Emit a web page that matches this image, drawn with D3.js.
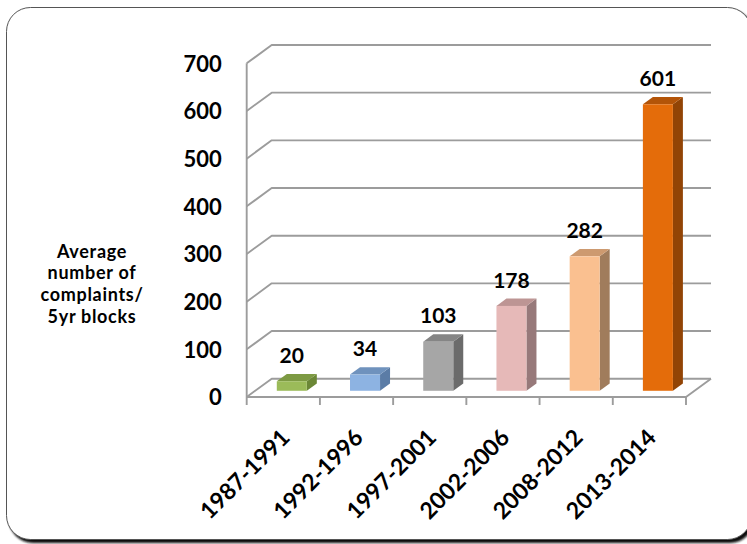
<!DOCTYPE html>
<html>
<head>
<meta charset="utf-8">
<script src="https://cdn.jsdelivr.net/npm/d3@7/dist/d3.min.js"></script>
<style>
  html, body { margin: 0; padding: 0; background: #ffffff; }
  svg { display: block; }
  text { font-family: Lato, "Open Sans", "Liberation Sans", sans-serif; font-weight: bold; fill: #000; }
</style>
</head>
<body>
<svg id="chart" width="747" height="544"></svg>
<script>
// Average complaints per block of years
const categories = ["1987-1991", "1992-1996", "1997-2001", "2002-2006", "2008-2012", "2013-2014"];
const values = [20, 34, 103, 178, 282, 601];
const yTicks = [0, 100, 200, 300, 400, 500, 600, 700];
const axisTitle = ["Average", "number of", "complaints/", "5yr blocks"];

// Bar faces: front, top, side
const barColors = [
  { front: "#9bbb59", top: "#7d9a43", side: "#6b8736" },
  { front: "#8db3e2", top: "#6f92bd", side: "#5b7ca6" },
  { front: "#a6a6a6", top: "#858585", side: "#6b6b6b" },
  { front: "#e6b9b8", top: "#bd9594", side: "#97797a" },
  { front: "#fac090", top: "#cd9a70", side: "#a07c5c" },
  { front: "#e46c0a", top: "#b35408", side: "#924405" }
];

const svg = d3.select("#chart");

// Frame with drop shadow
const defs = svg.append("defs");
const blur = defs.append("filter").attr("id", "shadowBlur")
  .attr("x", "-5%").attr("y", "-5%").attr("width", "110%").attr("height", "110%");
blur.append("feGaussianBlur").attr("stdDeviation", 1);

svg.append("rect")
  .attr("x", 9).attr("y", 10).attr("width", 745).attr("height", 533)
  .attr("rx", 24).attr("ry", 24)
  .attr("fill", "#111").attr("filter", "url(#shadowBlur)");
svg.append("rect")
  .attr("x", 6.5).attr("y", 7.5).attr("width", 745).attr("height", 532)
  .attr("rx", 24).attr("ry", 24)
  .attr("fill", "#fff").attr("stroke", "#555").attr("stroke-width", 1);

// 3D plot geometry
const plotLeft = 246.7, plotRight = 686;
const depthX = 25, depthY = -18.3;        // full floor depth offset
const barDepth0 = 0.34, barDepth1 = 0.74;  // bar placement within depth
const barWidthFrac = 0.41;

const x = d3.scaleBand().domain(categories).range([plotLeft, plotRight]).padding(0);
const y = d3.scaleLinear().domain([0, 700]).range([397, 63.3]);

const grid = svg.append("g")
  .attr("fill", "none").attr("stroke", "#9c9c9c").attr("stroke-width", 1.9)
  .attr("stroke-linejoin", "round");

// Back wall gridlines and left wall diagonals
yTicks.forEach(t => {
  const yf = y(t);
  grid.append("path").attr("d", d3.line()([
    [plotLeft, yf],
    [plotLeft + depthX, yf + depthY],
    [plotRight + depthX, yf + depthY]
  ]));
});
// Left wall front edge
grid.append("line")
  .attr("x1", plotLeft).attr("x2", plotLeft)
  .attr("y1", y(700)).attr("y2", y(0) + 8);
// Floor front edge and right diagonal
grid.append("path").attr("d", d3.line()([
  [plotLeft, y(0)], [plotRight, y(0)], [plotRight + depthX, y(0) + depthY]
]));
// Category tick marks
categories.forEach(c => {
  grid.append("line")
    .attr("x1", x(c) + x.bandwidth()).attr("x2", x(c) + x.bandwidth())
    .attr("y1", y(0)).attr("y2", y(0) + 8);
});

// Value axis labels
const yAxis = d3.axisLeft(y).tickValues(yTicks).tickSize(0).tickPadding(25);
const yAxisG = svg.append("g").attr("transform", `translate(${plotLeft},0)`).call(yAxis);
yAxisG.select(".domain").remove();
yAxisG.selectAll("text")
  .attr("font-size", 22).attr("font-family", null).attr("fill", "#000")
  .attr("dy", "0.36em");

// Axis title, one text per line
axisTitle.forEach((line, i) => {
  svg.append("text")
    .attr("text-anchor", "middle").attr("font-size", 18)
    .attr("letter-spacing", 0.7)
    .attr("x", 92).attr("y", 257.5 + i * 21.7)
    .text(line);
});

// Bars
const bars = svg.append("g");
categories.forEach((c, i) => {
  const v = values[i];
  const w = x.bandwidth() * barWidthFrac;
  const cx = x(c) + x.bandwidth() / 2;
  const fx0 = cx - w / 2 + depthX * barDepth0;
  const fx1 = fx0 + w;
  const fyB = y(0) + depthY * barDepth0;
  const fyT = y(v) + depthY * barDepth0;
  const ddx = depthX * (barDepth1 - barDepth0);
  const ddy = depthY * (barDepth1 - barDepth0);
  const col = barColors[i];
  // side face
  bars.append("path").attr("fill", col.side)
    .attr("d", d3.line()([[fx1, fyB], [fx1, fyT], [fx1 + ddx, fyT + ddy], [fx1 + ddx, fyB + ddy]]) + "Z");
  // top face
  bars.append("path").attr("fill", col.top)
    .attr("d", d3.line()([[fx0, fyT], [fx1, fyT], [fx1 + ddx, fyT + ddy], [fx0 + ddx, fyT + ddy]]) + "Z");
  // front face
  bars.append("rect").attr("fill", col.front)
    .attr("x", fx0).attr("y", fyT).attr("width", w).attr("height", fyB - fyT);
  // value label
  svg.append("text")
    .attr("text-anchor", "middle").attr("font-size", 21)
    .attr("x", fx0 + w / 2)
    .attr("y", y(v) + depthY * barDepth1 - 11)
    .text(v);
});

// Rotated category labels
categories.forEach(c => {
  const cx = x(c) + x.bandwidth() / 2;
  svg.append("text")
    .attr("text-anchor", "end").attr("font-size", 23)
    .attr("transform", `translate(${cx + 8},${439}) rotate(-45)`)
    .text(c);
});
</script>
</body>
</html>
